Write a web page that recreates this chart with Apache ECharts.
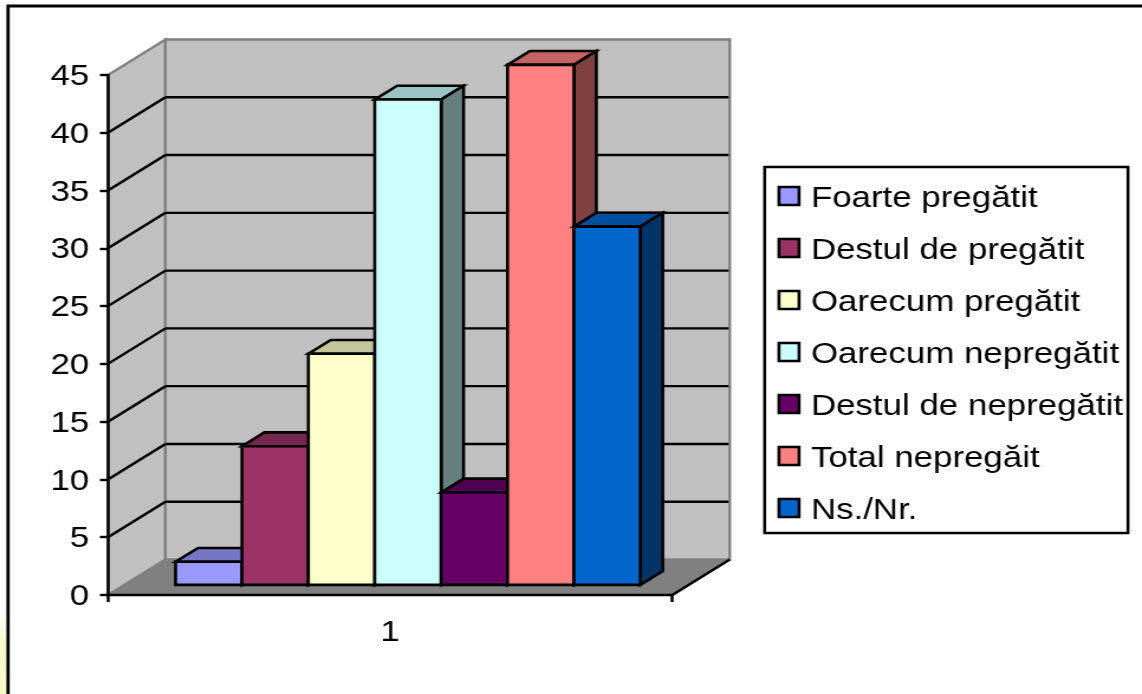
<!DOCTYPE html>
<html><head><meta charset="utf-8">
<style>html,body{margin:0;padding:0;background:#fff;overflow:hidden;width:1142px;height:694px}
#c{width:966px;height:694px;transform-origin:0 0;transform:scaleX(1.1822)}</style>
<script src="https://cdn.jsdelivr.net/npm/echarts@6/dist/echarts.min.js"></script>
</head><body><div id="c"></div>
<script>
const categories = ['Foarte pregătit','Destul de pregătit','Oarecum pregătit','Oarecum nepregătit','Destul de nepregătit','Total nepregăit','Ns./Nr.'];
const values = [2,12,20,42,8,45,31];
const colors = ['#9999ff','#993366','#ffffcc','#ccffff','#660066','#ff8080','#0066cc'];
const xLabels = ['1'];
const yTicks = [0,5,10,15,20,25,30,35,40,45];

const FONT = '"Liberation Sans", Arial, sans-serif';
const FS = 29.5;
const DX = 48.6, DY = -35.5;           // 3D depth vector of the floor
const GAP = 0.75, UNITS = values.length + 2 * GAP;
const FRONT_X = 0.31, FRONT_Y = 0.285, DEPTH = 0.39;
function shade(hex, k){
  const n = parseInt(hex.slice(1),16);
  return 'rgb(' + [(n>>16)&255,(n>>8)&255,n&255].map(c=>Math.round(c*k)).join(',') + ')';
}
function poly(points, fill, stroke, w){
  return {type:'polygon',shape:{points},style:{fill,stroke,lineWidth:w,lineJoin:'miter'}};
}
function line(a,b,stroke,w){
  return {type:'line',shape:{x1:a[0],y1:a[1],x2:b[0],y2:b[1]},style:{stroke,lineWidth:w,fill:null}};
}
function renderWalls(params, api){
  const bw = api.size([1,0])[0], cx = api.coord([0,0])[0];
  const L = cx-bw/2, R = cx+bw/2;
  const y0 = api.coord([0,yTicks[0]])[1], yT = api.coord([0,yTicks[yTicks.length-1]])[1];
  const kids = [
    poly([[L,y0],[L+DX,y0+DY],[L+DX,yT+DY],[L,yT]],'#c0c0c0','#808080',2.3),
    poly([[L+DX,y0+DY],[R+DX,y0+DY],[R+DX,yT+DY],[L+DX,yT+DY]],'#c0c0c0','#808080',2.3),
    poly([[L,y0],[L+DX,y0+DY],[R+DX,y0+DY],[R,y0]],'#808080','#808080',1)
  ];
  yTicks.slice(1,-1).forEach(v=>{
    const y = api.coord([0,v])[1];
    kids.push(line([L,y],[L+DX,y+DY],'#000',2.4));
    kids.push(line([L+DX,y+DY],[R+DX-1,y+DY],'#000',2.4));
  });
  kids.push(line([R,y0],[R+DX,y0+DY],'#000',2.4));
  return {type:'group',children:kids};
}
function renderBar(index){
  return function(params, api){
    const bw = api.size([1,0])[0], cx = api.coord([0,0])[0];
    const L = cx-bw/2, unit = bw/UNITS;
    const fx = DX*FRONT_X, fy = DY*FRONT_Y, dx = DX*DEPTH, dy = DY*DEPTH;
    const y0 = api.coord([0,0])[1] + fy, yV = api.coord([0,api.value(1)])[1] + fy;
    const x1 = L + unit*(GAP+index) + fx, x2 = x1 + unit;
    const c = colors[index];
    return {type:'group',children:[
      poly([[x1,yV],[x1+dx,yV+dy],[x2+dx,yV+dy],[x2,yV]],shade(c,0.77),'#000',2.6),
      poly([[x2,yV],[x2+dx,yV+dy],[x2+dx,y0+dy],[x2,y0]],shade(c,0.5),'#000',2.6),
      poly([[x1,y0],[x2,y0],[x2,yV],[x1,yV]],c,'#000',2.6)
    ]};
  };
}
const series = [{
  type:'custom',name:'walls',z:1,silent:true,data:[[0,0]],encode:{x:0,y:1},renderItem:renderWalls,animation:false
}].concat(categories.map((name,i)=>({
  type:'custom',name,z:3+i,silent:true,data:[[0,values[i]]],encode:{x:0,y:1},
  renderItem:renderBar(i),animation:false,
  itemStyle:{color:colors[i],borderColor:'#000',borderWidth:2.6}
})));
const chart = echarts.init(document.getElementById('c'),null,{renderer:'canvas',devicePixelRatio:1});
chart.setOption({
  animation:false,backgroundColor:'#fff',
  grid:{left:91.3,top:75,width:477.4,height:520,containLabel:false},
  xAxis:{type:'category',data:xLabels,z:20,
    axisLine:{show:true,lineStyle:{color:'#000',width:2.4}},
    axisTick:{show:true,length:7,alignWithLabel:false,lineStyle:{color:'#000',width:2.5}},
    axisLabel:{color:'#000',fontSize:FS,fontFamily:FONT,margin:23}},
  yAxis:{type:'value',min:0,max:45,interval:5,z:20,
    axisLine:{show:true,lineStyle:{color:'#000',width:2.5}},
    axisTick:{show:true,length:6.8,lineStyle:{color:'#000',width:2.4}},
    axisLabel:{color:'#000',fontSize:FS,fontFamily:FONT,margin:15.8,
      formatter:'{a|{value}}',rich:{a:{color:'#000',fontSize:FS,fontFamily:FONT,padding:[4,0,0,0]}}},
    splitLine:{show:false}},
  legend:{orient:'vertical',left:646.8,top:167,data:categories,selectedMode:false,
    icon:'rect',itemWidth:17,itemHeight:18,itemGap:16,
    backgroundColor:'#fff',borderColor:'#000',borderWidth:2.5,
    padding:[11,4.2,7,10.8],
    itemStyle:{borderColor:'#000',borderWidth:2.6},
    formatter:name=>'{a|'+name+'}',
    textStyle:{color:'#000',fontSize:FS,fontFamily:FONT,
      rich:{a:{color:'#000',fontSize:FS,fontFamily:FONT,lineHeight:30,padding:[6,0,0,5]}}}},
  graphic:[
    {type:'rect',z:50,shape:{x:0,y:612,width:5.5,height:82},
      style:{fill:{type:'linear',x:0,y:0,x2:0,y2:1,colorStops:[{offset:0,color:'#ffffff'},{offset:0.35,color:'#f8fccc'},{offset:1,color:'#fbfcc8'}]}}},
    {type:'polyline',z:50,shape:{points:[[6.8,700],[6.8,6],[975,6]]},style:{stroke:'#000',lineWidth:2.8,fill:null}}
  ],
  series
});
</script></body></html>
